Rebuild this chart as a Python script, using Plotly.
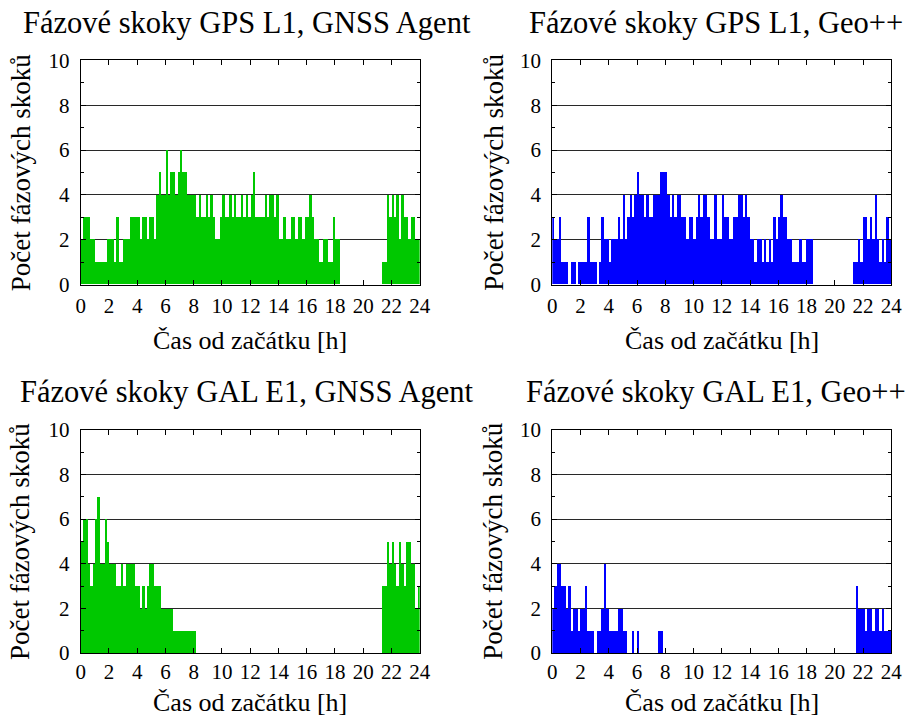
import plotly.graph_objects as go

# ---- data: phase jumps per 10-minute bin (6 bins per hour, 24 h) ----
hours_bins = [i / 6 + 1 / 12 for i in range(144)]

gps_agent = [
    2, 3, 3, 3, 2, 2,   1, 1, 1, 1, 1, 2,   2, 2, 1, 3, 1, 1,   2, 2, 2, 3, 3, 3,
    3, 2, 3, 3, 2, 3,   3, 2, 4, 5, 4, 4,   6, 4, 5, 5, 4, 5,   6, 5, 5, 4, 4, 4,
    4, 3, 4, 3, 3, 4,   3, 4, 3, 2, 2, 3,   4, 3, 3, 4, 3, 4,   3, 3, 4, 3, 4, 3,
    4, 5, 3, 3, 3, 3,   4, 3, 4, 4, 3, 4,   2, 2, 3, 2, 2, 3,   3, 2, 3, 3, 2, 3,
    3, 4, 3, 2, 2, 1,   1, 2, 2, 1, 1, 3,   2, 2, 0, 0, 0, 0,   0, 0, 0, 0, 0, 0,
    0, 0, 0, 0, 0, 0,   0, 0, 1, 1, 4, 3,   4, 3, 4, 2, 4, 3,   3, 2, 3, 3, 2, 2,
]

gps_geo = [
    3, 2, 2, 3, 1, 1,   1, 0, 1, 1, 0, 1,   1, 1, 1, 3, 1, 1,   1, 0, 1, 3, 2, 2,
    1, 2, 2, 2, 3, 2,   4, 2, 3, 4, 3, 4,   5, 4, 4, 3, 4, 3,   3, 4, 4, 4, 5, 5,
    5, 4, 3, 4, 3, 4,   4, 3, 3, 2, 3, 3,   2, 3, 4, 3, 4, 4,   3, 2, 2, 4, 2, 2,
    4, 3, 3, 2, 2, 3,   3, 4, 4, 3, 4, 3,   2, 2, 1, 2, 2, 1,   2, 1, 2, 1, 3, 2,
    3, 4, 3, 3, 2, 2,   1, 1, 1, 2, 1, 1,   2, 2, 2, 0, 0, 0,   0, 0, 0, 0, 0, 0,
    0, 0, 0, 0, 0, 0,   0, 0, 1, 1, 2, 1,   3, 3, 2, 3, 2, 4,   2, 1, 2, 1, 3, 2,
]

gal_agent = [
    5, 6, 6, 4, 3, 4,   6, 7, 4, 4, 6, 5,   4, 4, 4, 3, 3, 4,   3, 4, 4, 4, 4, 3,
    3, 2, 3, 2, 3, 4,   4, 3, 3, 3, 2, 2,   2, 2, 2, 1, 1, 1,   1, 1, 1, 1, 1, 1,
    1, 0, 0, 0, 0, 0,   0, 0, 0, 0, 0, 0,   0, 0, 0, 0, 0, 0,   0, 0, 0, 0, 0, 0,
    0, 0, 0, 0, 0, 0,   0, 0, 0, 0, 0, 0,   0, 0, 0, 0, 0, 0,   0, 0, 0, 0, 0, 0,
    0, 0, 0, 0, 0, 0,   0, 0, 0, 0, 0, 0,   0, 0, 0, 0, 0, 0,   0, 0, 0, 0, 0, 0,
    0, 0, 0, 0, 0, 0,   0, 0, 3, 3, 5, 4,   5, 4, 3, 5, 4, 3,   5, 5, 4, 4, 2, 3,
]

gal_geo = [
    2, 3, 4, 4, 3, 3,   2, 3, 1, 2, 2, 1,   2, 2, 3, 1, 1, 1,   0, 1, 1, 2, 4, 2,
    1, 1, 1, 1, 2, 2,   1, 1, 0, 0, 1, 0,   1, 0, 0, 0, 0, 0,   0, 0, 0, 1, 1, 0,
    0, 0, 0, 0, 0, 0,   0, 0, 0, 0, 0, 0,   0, 0, 0, 0, 0, 0,   0, 0, 0, 0, 0, 0,
    0, 0, 0, 0, 0, 0,   0, 0, 0, 0, 0, 0,   0, 0, 0, 0, 0, 0,   0, 0, 0, 0, 0, 0,
    0, 0, 0, 0, 0, 0,   0, 0, 0, 0, 0, 0,   0, 0, 0, 0, 0, 0,   0, 0, 0, 0, 0, 0,
    0, 0, 0, 0, 0, 0,   0, 0, 0, 3, 2, 2,   2, 1, 2, 2, 1, 2,   2, 1, 2, 1, 1, 1,
]

titles = [
    "Fázové skoky GPS L1, GNSS Agent",
    "Fázové skoky GPS L1, Geo++",
    "Fázové skoky GAL E1, GNSS Agent",
    "Fázové skoky GAL E1, Geo++",
]
series = [gps_agent, gps_geo, gal_agent, gal_geo]
colors = ["rgb(0,200,0)", "rgb(0,0,255)", "rgb(0,200,0)", "rgb(0,0,255)"]
x_label = "Čas od začátku [h]"
y_label = "Počet fázových skoků"
x_ticks = list(range(0, 25, 2))
y_ticks = list(range(0, 11, 2))

# ---- layout: figure-pixel boxes of the plot areas (x0, x1, y0, y1) ----
W, H = 920, 725
boxes = [(77, 422, 50, 282), (557, 902, 50, 282), (77, 422, 432, 663), (557, 902, 432, 663)]
title_x = [246, 724, 246, 724]
title_y = [11, 11, 393, 393]
xlab_y = [340, 340, 714, 714]
ylab_x = [16, 497, 16, 497]
tick_standoff = [2, 2, 0, 0]
FONT = "Liberation Serif"


def px(v):
    return v / W


def py(v):
    return 1 - v / H


fig = go.Figure()
layout = dict(
    width=W, height=H, margin=dict(l=0, r=0, t=0, b=0),
    paper_bgcolor="white", plot_bgcolor="white", showlegend=False,
    bargap=0, font=dict(family=FONT, color="black", size=21),
)
annotations = []
for k, (vals, col, title, box) in enumerate(zip(series, colors, titles, boxes)):
    n = "" if k == 0 else str(k + 1)
    x0, x1, y0, y1 = box
    fig.add_trace(go.Bar(
        x=hours_bins, y=vals, width=1 / 6, marker=dict(color=col, line=dict(width=0)),
        xaxis="x" + n, yaxis="y" + n,
    ))
    layout["xaxis" + n] = dict(
        domain=[px(x0), px(x1)], anchor="y" + n, range=[0, 24],
        tickvals=x_ticks, ticks="inside", ticklen=5, tickcolor="black",
        showline=True, linecolor="black", linewidth=1, mirror="ticks",
        showgrid=False, zeroline=False, tickfont=dict(size=21),
        ticklabelstandoff=tick_standoff[k],
    )
    layout["yaxis" + n] = dict(
        domain=[py(y1), py(y0)], anchor="x" + n, range=[0, 10],
        tickvals=y_ticks, ticks="inside", ticklen=5, tickcolor="black",
        minor=dict(dtick=1, ticks="inside", ticklen=3, tickcolor="black", showgrid=False),
        showline=True, linecolor="black", linewidth=1, mirror="ticks",
        showgrid=True, gridcolor="rgb(40,40,40)", gridwidth=1, zeroline=False,
        tickfont=dict(size=21), ticklabelstandoff=6,
    )
    annotations.append(dict(text=title, x=px(title_x[k]), y=py(title_y[k]), xref="paper", yref="paper",
                            showarrow=False, xanchor="center", yanchor="middle",
                            font=dict(size=30.5, family=FONT)))
    annotations.append(dict(text=x_label, x=px((x0 + x1) / 2), y=py(xlab_y[k]), xref="paper", yref="paper",
                            showarrow=False, xanchor="center", yanchor="middle",
                            font=dict(size=26, family=FONT)))
    annotations.append(dict(text=y_label, x=px(ylab_x[k]), y=py((y0 + y1) / 2),
                            xref="paper", yref="paper", textangle=-90,
                            showarrow=False, xanchor="center", yanchor="middle",
                            font=dict(size=27, family=FONT)))
layout["annotations"] = annotations
fig.update_layout(**layout)
fig.write_html("out.html")
